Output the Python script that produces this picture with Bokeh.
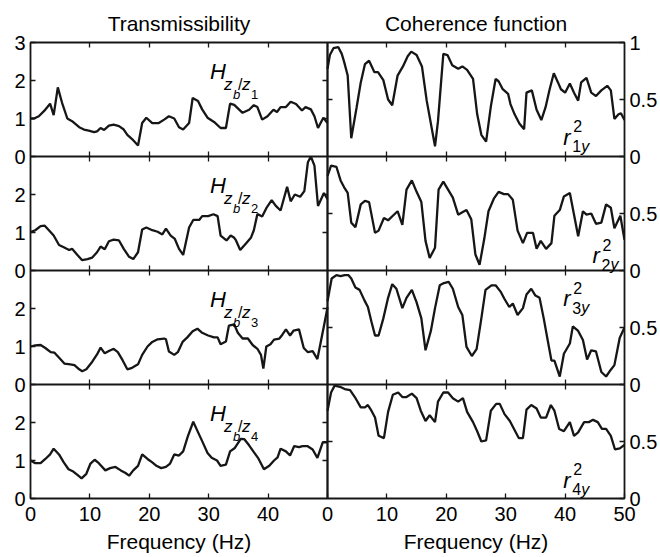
from bokeh.plotting import figure
from bokeh.models import Range1d, LinearAxis, FixedTicker, Label, Grid
from bokeh.embed import file_html
from bokeh.resources import INLINE

# ---------------- data ----------------
freq_t1 = [0,0.6,1.4,2.3,3.3,3.9,4.6,5.3,6.2,7.0,8.2,9.0,9.8,10.7,11.2,11.8,12.4,13.2,14.0,14.9,15.7,16.3,17.1,18.1,18.8,19.5,20.5,21.6,22.5,23.3,24.2,25.0,25.7,26.7,27.3,28.2,28.9,29.8,30.9,32.0,32.9,33.6,34.3,35.7,36.8,37.6,38.2,39.0,39.9,40.9,41.5,42.1,43.0,43.8,44.7,45.7,46.3,47.2,47.8,48.4,49.3,50.0]
trans_1 = [1.0,1.0,1.06,1.2,1.39,1.09,1.82,1.42,1.0,0.93,0.77,0.71,0.68,0.64,0.66,0.75,0.70,0.81,0.84,0.80,0.71,0.57,0.46,0.29,0.88,1.02,0.88,0.88,0.97,1.06,1.0,0.77,0.71,0.88,1.54,1.46,1.24,1.02,0.91,0.75,0.75,1.39,1.36,1.15,1.23,1.35,1.30,0.97,1.06,1.23,1.17,1.30,1.30,1.44,1.38,1.21,1.30,1.24,1.06,0.75,1.02,0.88]

freq_t2 = [0,0.8,1.7,2.4,3.1,3.9,4.8,5.6,6.5,7.0,7.9,8.7,9.6,10.4,11.2,11.8,12.5,13.2,14.0,14.9,15.7,16.6,17.3,18.1,18.8,19.5,20.5,21.4,22.2,22.8,23.6,24.3,25.0,25.7,26.7,27.4,28.4,28.9,29.9,30.8,31.5,32.0,33.0,33.7,34.3,34.6,35.3,36.2,37.1,37.6,38.2,39.0,39.7,40.6,41.3,42.1,43.2,43.8,44.5,45.4,46.1,46.7,47.2,47.8,48.4,49.4,50.0]
trans_2 = [1.01,1.06,1.17,1.18,1.06,0.92,0.67,0.61,0.54,0.57,0.41,0.27,0.30,0.34,0.48,0.63,0.56,0.77,0.81,0.79,0.57,0.36,0.30,0.48,1.08,1.13,1.06,1.02,0.95,1.10,0.92,0.83,0.57,0.41,1.13,1.33,1.33,1.43,1.43,1.48,1.43,0.92,0.79,0.92,0.86,0.79,0.54,0.70,0.86,1.06,1.49,1.42,1.64,1.85,1.70,1.58,2.20,1.82,2.0,1.94,2.09,2.85,3.0,2.76,1.70,2.04,1.88]

freq_t3 = [0,0.8,1.7,2.5,3.4,4.0,4.9,5.7,6.7,7.4,8.2,8.7,9.4,10.4,11.2,11.8,12.5,13.2,14.0,14.7,15.5,16.3,17.1,18.1,18.8,19.7,20.5,21.4,22.5,22.8,23.3,24.2,24.8,25.6,26.4,27.3,28.1,28.9,29.9,30.9,31.5,32.0,32.9,33.4,34.3,34.9,35.7,36.6,37.4,38.2,38.8,39.2,39.7,40.4,41.0,41.9,42.4,43.0,43.7,44.3,45.2,46.0,46.7,47.5,48.3,49.4,50.0]
trans_3 = [1.0,1.03,1.04,0.96,0.85,0.84,0.69,0.55,0.53,0.51,0.40,0.35,0.40,0.60,0.79,0.97,0.82,0.88,0.94,0.85,0.64,0.40,0.44,0.53,0.78,1.0,1.12,1.19,1.21,1.19,0.87,0.78,0.85,1.12,1.24,1.40,1.47,1.36,1.29,1.24,1.24,1.06,1.13,1.55,1.58,1.36,1.21,1.21,1.04,0.94,0.78,0.42,1.0,1.06,1.18,1.21,1.31,1.45,1.29,1.42,1.45,0.96,0.85,0.88,0.67,1.54,2.03]

freq_t4 = [0,0.8,1.7,2.5,3.3,3.9,4.8,5.6,6.4,7.2,7.9,8.6,9.4,10.1,10.8,11.5,12.6,13.4,14.3,15.2,16.0,16.6,17.3,18.1,18.8,19.7,20.5,21.2,22.0,22.8,23.5,24.2,25.0,25.7,26.5,27.4,28.1,28.9,29.8,30.5,31.4,32.0,32.9,33.6,34.4,35.4,36.0,36.8,37.6,38.3,39.3,40.2,41.0,41.6,42.1,43.0,43.7,44.4,45.2,45.8,46.6,47.5,48.3,49.2,50.0]
trans_4 = [1.0,0.93,0.93,1.04,1.16,1.31,1.16,0.95,0.77,0.71,0.62,0.53,0.65,0.92,1.02,0.93,0.74,0.80,0.83,0.74,0.67,0.60,0.74,0.86,1.16,1.04,0.95,0.86,0.80,0.83,0.92,1.16,1.13,1.24,1.64,2.02,1.78,1.51,1.20,1.07,1.0,0.86,0.89,1.24,1.33,1.57,1.56,1.40,1.22,1.07,0.77,0.86,1.0,1.08,1.31,1.24,1.13,1.38,1.35,1.38,1.38,1.29,1.07,1.48,1.48]

freq_c1 = [0,0.4,1.0,1.8,2.4,2.8,3.4,4.0,4.9,5.6,6.3,7.0,7.9,8.5,9.4,10.2,10.9,11.8,12.7,13.5,14.1,15.0,15.9,16.7,18.1,18.6,19.5,20.2,21.0,22.0,22.7,23.5,24.5,25.2,25.9,26.7,27.5,28.3,28.8,29.5,30.4,30.8,31.5,32.3,33.1,33.5,34.4,35.2,36.0,36.7,37.4,38.1,38.8,39.3,40.0,40.8,41.5,42.2,42.7,43.6,44.4,45.2,46.1,47.1,47.7,48.3,49.0,49.4,50.0]
coh_1 = [0.77,0.89,0.95,0.96,0.90,0.83,0.71,0.16,0.43,0.65,0.81,0.84,0.74,0.74,0.67,0.50,0.45,0.71,0.79,0.88,0.92,0.89,0.79,0.49,0.09,0.31,0.90,0.89,0.80,0.77,0.79,0.76,0.68,0.37,0.19,0.13,0.44,0.68,0.66,0.59,0.55,0.46,0.37,0.29,0.24,0.56,0.58,0.41,0.32,0.43,0.59,0.73,0.65,0.59,0.56,0.64,0.56,0.49,0.65,0.69,0.56,0.53,0.58,0.62,0.58,0.33,0.37,0.38,0.32]

freq_c2 = [0,0.6,1.5,2.2,2.8,3.4,4.0,4.7,5.6,6.3,7.0,8.0,8.6,9.5,10.2,11.0,11.8,12.6,13.3,14.2,15.0,15.8,16.5,17.2,18.1,18.7,19.5,20.3,21.1,22.0,22.7,23.4,24.2,24.9,25.6,26.4,27.1,28.0,28.8,29.7,30.4,31.2,32.0,32.9,33.6,34.6,35.2,35.9,36.8,37.7,38.2,39.1,39.8,40.8,42.2,43.0,43.6,44.4,45.2,46.1,46.9,47.7,48.3,49.3,50.0]
coh_2 = [0.83,0.92,0.91,0.79,0.73,0.68,0.42,0.38,0.58,0.61,0.60,0.33,0.35,0.46,0.44,0.48,0.52,0.40,0.71,0.79,0.69,0.60,0.26,0.11,0.20,0.71,0.78,0.71,0.64,0.49,0.51,0.53,0.45,0.14,0.05,0.28,0.52,0.63,0.69,0.67,0.67,0.62,0.35,0.24,0.33,0.33,0.19,0.26,0.19,0.24,0.48,0.53,0.65,0.68,0.30,0.52,0.49,0.50,0.41,0.42,0.58,0.55,0.37,0.48,0.27]

freq_c3 = [0,0.7,1.5,2.2,2.9,3.5,4.0,4.7,5.4,6.2,6.8,7.4,8.0,8.6,9.4,10.2,10.9,11.6,12.6,13.3,14.2,15.0,15.8,16.5,17.4,18.1,18.9,19.6,20.4,21.1,22.0,22.7,23.4,24.3,25.1,25.9,26.6,27.6,28.3,29.2,29.8,30.6,31.2,32.0,32.9,33.5,34.3,35.0,35.7,36.4,37.1,37.7,38.2,39.1,39.8,40.8,41.3,42.2,43.0,43.7,44.4,45.2,46.1,46.9,47.7,48.3,49.2,50.0]
coh_3 = [0.73,0.93,0.96,0.95,0.96,0.96,0.93,0.85,0.83,0.74,0.68,0.55,0.43,0.43,0.58,0.76,0.88,0.84,0.67,0.76,0.83,0.72,0.58,0.30,0.47,0.67,0.87,0.89,0.90,0.84,0.68,0.61,0.33,0.25,0.31,0.58,0.83,0.87,0.87,0.81,0.75,0.68,0.71,0.61,0.67,0.79,0.84,0.78,0.76,0.58,0.38,0.21,0.21,0.07,0.27,0.36,0.51,0.47,0.39,0.22,0.30,0.29,0.11,0.07,0.13,0.17,0.41,0.50]

freq_c4 = [0,0.6,1.2,2.1,2.9,3.8,4.6,5.6,6.3,6.8,7.4,8.0,8.6,9.5,10.2,11.0,11.9,12.6,13.3,14.2,15.0,15.7,16.5,17.2,18.1,18.6,19.5,20.3,21.1,22.0,22.8,23.5,24.5,25.2,25.9,26.7,27.5,28.4,29.0,29.8,30.7,31.6,32.2,32.9,33.5,34.3,35.2,35.9,36.8,37.6,38.2,39.0,39.8,40.8,41.5,42.2,43.2,44.0,44.7,45.5,46.2,46.9,47.7,48.4,49.2,50.0]
coh_4 = [0.77,0.93,0.99,0.98,0.96,0.95,0.89,0.80,0.80,0.82,0.77,0.71,0.55,0.53,0.76,0.91,0.93,0.89,0.89,0.92,0.88,0.77,0.68,0.73,0.67,0.85,0.93,0.93,0.88,0.85,0.88,0.76,0.67,0.59,0.50,0.51,0.77,0.83,0.83,0.74,0.68,0.59,0.53,0.53,0.78,0.82,0.79,0.71,0.71,0.82,0.77,0.61,0.59,0.67,0.55,0.58,0.67,0.67,0.69,0.67,0.61,0.61,0.55,0.43,0.44,0.47]

trans_freqs = [freq_t1, freq_t2, freq_t3, freq_t4]
trans_values = [trans_1, trans_2, trans_3, trans_4]
coh_freqs = [freq_c1, freq_c2, freq_c3, freq_c4]
coh_values = [coh_1, coh_2, coh_3, coh_4]
sensor_ids = ["1", "2", "3", "4"]

x_ticks = [0, 10, 20, 30, 40, 50]
trans_ticks = [0, 1, 2, 3]
coh_ticks = [0, 0.5, 1]
coh_tick_labels = ["0", "0.5", "1"]

titles = ["Transmissibility", "Coherence function"]
x_label = "Frequency (Hz)"

# ---------------- styling ----------------
FONT = "Liberation Sans"
INK = "#161616"
TICK_SIZE = "20px"
N = 4
T_MAX = 3
X_MAX = 50

p = figure(width=660, height=557, output_backend="svg", toolbar_location=None,
           x_axis_location=None, y_axis_location=None,
           x_range=Range1d(0, 2 * X_MAX), y_range=Range1d(0, N * T_MAX),
           min_border_left=30, min_border_right=35, min_border_top=42,
           min_border_bottom=59)
p.center = [c for c in p.center if not isinstance(c, Grid)]
p.outline_line_color = INK
p.outline_line_width = 1.8
p.background_fill_color = "white"
p.border_fill_color = "white"

extra_y = {"call": Range1d(0, N)}
for k in range(N):
    extra_y[f"t{k}"] = Range1d(-T_MAX * (N - 1 - k), T_MAX * (k + 1))
    extra_y[f"c{k}"] = Range1d(-(N - 1 - k), k + 1)
p.extra_y_ranges = extra_y
p.extra_x_ranges = {"xr": Range1d(-X_MAX, X_MAX)}

# curves
for k in range(N):
    p.line(trans_freqs[k], trans_values[k], y_range_name=f"t{k}",
           line_color=INK, line_width=2.3)
    p.line(coh_freqs[k], coh_values[k], x_range_name="xr", y_range_name=f"c{k}",
           line_color=INK, line_width=2.3)


def style_axis(ax, tick_in=5, tick_out=0, labels=True, standoff=5, line=False,
               size=TICK_SIZE):
    ax.major_tick_in = tick_in
    ax.major_tick_out = tick_out
    ax.major_tick_line_color = INK if (tick_in or tick_out) else None
    ax.major_tick_line_width = 1.3
    ax.minor_tick_line_color = None
    ax.axis_line_color = INK if line else None
    ax.axis_line_width = 1.8
    ax.major_label_standoff = standoff
    ax.major_label_text_font = FONT
    ax.major_label_text_font_size = size if labels else "0px"
    ax.major_label_text_color = "black" if labels else None
    return ax


# left axis (transmissibility), one set of ticks per row
t_pos, t_over = [], {}
for k in reversed(range(N)):
    base = T_MAX * (N - 1 - k)
    for t in trans_ticks:
        t_pos.append(base + t)
        t_over[base + t] = str(t)
left_ax = LinearAxis(ticker=FixedTicker(ticks=sorted(set(t_pos))),
                     major_label_overrides=t_over)
style_axis(left_ax, standoff=5)
p.add_layout(left_ax, "left")

# right axis (coherence)
c_pos, c_over = [], {}
for k in reversed(range(N)):
    base = N - 1 - k
    for t, lab in zip(coh_ticks, coh_tick_labels):
        c_pos.append(base + t)
        c_over[base + t] = lab
right_ax = LinearAxis(y_range_name="call", ticker=FixedTicker(ticks=sorted(set(c_pos))),
                      major_label_overrides=c_over)
style_axis(right_ax, standoff=5)
p.add_layout(right_ax, "right")

# bottom tick axis for both columns
x_pos, x_over = [], {}
for off in (0, X_MAX):
    for t in x_ticks:
        x_pos.append(off + t)
        x_over[off + t] = str(t)
bottom_ax = LinearAxis(ticker=FixedTicker(ticks=sorted(set(x_pos))),
                       major_label_overrides=x_over)
style_axis(bottom_ax, standoff=8)
p.add_layout(bottom_ax, "below")

# column x labels, centred under each column
centres = [X_MAX / 2, X_MAX + X_MAX / 2]
xlab_ax = LinearAxis(ticker=FixedTicker(ticks=centres),
                     major_label_overrides={c: x_label for c in centres})
style_axis(xlab_ax, tick_in=0, tick_out=0, standoff=6, size="21px")
p.add_layout(xlab_ax, "below")

# top ticks (no labels) and column titles
inner_x = [v for v in sorted(set(x_pos)) if v % X_MAX != 0]
top_ax = LinearAxis(ticker=FixedTicker(ticks=inner_x))
style_axis(top_ax, labels=False, standoff=0)
p.add_layout(top_ax, "above")

title_ax = LinearAxis(ticker=FixedTicker(ticks=centres),
                      major_label_overrides={c: t for c, t in zip(centres, titles)})
style_axis(title_ax, tick_in=0, tick_out=0, standoff=8, size="21px")
p.add_layout(title_ax, "above")

# row separators with ticks on both sides
for k in range(1, N):
    sep = LinearAxis(ticker=FixedTicker(ticks=inner_x), fixed_location=T_MAX * k)
    style_axis(sep, tick_in=5, tick_out=5, labels=False, standoff=0, line=True)
    p.add_layout(sep, "below")

# column divider: ticks of the left column (pointing left) and right column (pointing right)
div_l = LinearAxis(ticker=FixedTicker(ticks=[v for v in t_pos if v % T_MAX != 0]),
                   fixed_location=X_MAX)
style_axis(div_l, labels=False, standoff=0, line=True)
p.add_layout(div_l, "right")
div_r = LinearAxis(y_range_name="call",
                   ticker=FixedTicker(ticks=[v for v in c_pos if v % 1 != 0]),
                   fixed_location=X_MAX)
style_axis(div_r, labels=False, standoff=0, line=True)
p.add_layout(div_r, "left")


def piece(text, x, y, dx, dy, size, italic, xr="default", yr="default"):
    p.add_layout(Label(x=x, y=y, x_offset=dx, y_offset=dy, text=text,
                       x_range_name=xr, y_range_name=yr,
                       text_align="left", text_baseline="alphabetic",
                       text_font=FONT, text_font_size=size,
                       text_font_style="italic" if italic else "normal",
                       text_color="black"))


# H_{z_b/z_i} annotations
for k in range(N):
    yr = f"t{k}"
    hx, hy = 30.2, 2.24
    piece("H", hx, hy, 0, 0, "22px", True, yr=yr)
    piece("z", hx, hy, 14, -13, "17px", True, yr=yr)
    piece("b", hx, hy, 23, -23, "13px", True, yr=yr)
    piece("/", hx, hy, 28, -13, "16px", False, yr=yr)
    piece("z", hx, hy, 32, -13, "17px", True, yr=yr)
    piece(sensor_ids[k], hx, hy, 41, -23, "13px", False, yr=yr)

# r^2_{iy} annotations
r_pos = [(39.7, 0.167), (44.6, 0.13), (39.7, 0.754), (39.7, 0.158)]
for k in range(N):
    yr = f"c{k}"
    rx, ry = r_pos[k]
    piece("r", rx, ry, 0, 0, "22px", True, xr="xr", yr=yr)
    piece("2", rx, ry, 10, 11, "16px", False, xr="xr", yr=yr)
    piece(sensor_ids[k], rx, ry, 9, -9, "16px", False, xr="xr", yr=yr)
    piece("y", rx, ry, 18, -9, "16px", True, xr="xr", yr=yr)

open("out.html", "w").write(file_html(p, INLINE))
